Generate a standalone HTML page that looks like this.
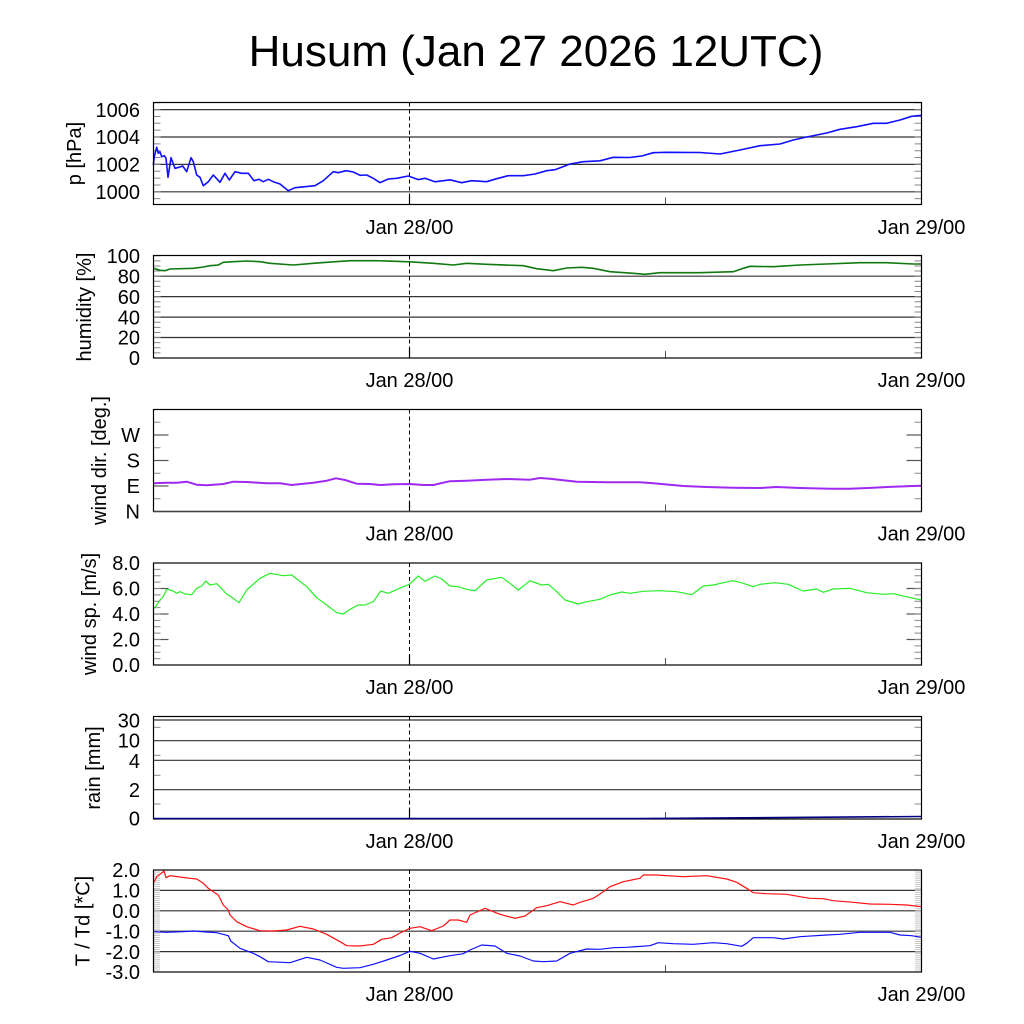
<!DOCTYPE html>
<html>
<head>
<meta charset="utf-8">
<style>
html,body{margin:0;padding:0;background:#fff;}
svg{display:block;}
text{font-family:"Liberation Sans",Arial,sans-serif;fill:#000;}
</style>
</head>
<body>
<svg width="1024" height="1024" viewBox="0 0 1024 1024" xmlns="http://www.w3.org/2000/svg">
<rect x="0" y="0" width="1024" height="1024" fill="#fff"/>

<text x="536" y="66" font-size="44" text-anchor="middle">Husum (Jan 27 2026 12UTC)</text>

<!-- ============ Panel 1: pressure ============ -->
<g>
  <g stroke="#333" stroke-width="1.2">
    <line x1="153.5" y1="109.6" x2="921.5" y2="109.6"/>
    <line x1="153.5" y1="137" x2="921.5" y2="137"/>
    <line x1="153.5" y1="164.4" x2="921.5" y2="164.4"/>
    <line x1="153.5" y1="191.8" x2="921.5" y2="191.8"/>
  </g>
  <g stroke="#888" stroke-width="7" stroke-dasharray="1 5.85">
    <line x1="157" y1="199.15" x2="157" y2="102.5"/>
    <line x1="918" y1="199.15" x2="918" y2="102.5"/>
  </g>
  <line x1="409.5" y1="102.5" x2="409.5" y2="204.5" stroke="#000" stroke-width="1" stroke-dasharray="4 3"/>
  <line x1="409.5" y1="194.5" x2="409.5" y2="204.5" stroke="#000" stroke-width="1.2"/>
  <line x1="665.5" y1="197.5" x2="665.5" y2="204.5" stroke="#555" stroke-width="1"/>
  <polyline fill="none" stroke="#1010ff" stroke-width="1.6" stroke-linejoin="round" points="153.3,165 154.3,156.7 156.7,147.3 158.3,153.3 160,151.7 161.7,156.7 164.3,155.7 166,158.3 168,177.3 171,157.7 175,168.3 179,167.3 182.7,166 186.7,171.7 191,157.7 193.3,161.7 196.7,175 200,177.3 203.3,185.7 208.3,181.7 213.3,175 220,182.3 225,173.3 229.3,180 235,171.7 241.7,173.3 248.3,173.3 254,180.7 259,179.3 263.3,181.7 268.3,179.3 273.3,181.7 280,184 288.3,190.7 295,187.7 305,186.7 315,185.7 323.3,180.7 333.3,171.7 338.3,172.7 346,170.7 353.3,172 360,175.3 366.7,175 373.3,178.3 380,182.7 388.3,179 396.7,178.3 408.3,176 418.3,179.6 425,178.3 435,181.8 450,179.8 461.7,182.7 471.7,180.7 486.7,181.7 496.7,178.7 508.3,175.7 523.3,175.7 535,174 546.7,170.7 555,169.7 570,164 583.3,161.7 600,160.8 613.3,157.3 630,157.5 641.7,156 653.3,152.7 666.7,152.3 700,152.5 720,154 740,150 760,145.7 780,144 793.3,140 806.7,137 826.7,133 840,129.3 856.7,126.7 873.3,123.3 886.7,123.3 900,120 911.7,116.3 921.5,115.3"/>
  <rect x="153.5" y="102.5" width="768" height="102" fill="none" stroke="#000" stroke-width="1.2"/>
  <g font-size="20" text-anchor="end">
    <text x="140" y="116.8">1006</text>
    <text x="140" y="144.2">1004</text>
    <text x="140" y="171.6">1002</text>
    <text x="140" y="199">1000</text>
  </g>
  <text font-size="20" text-anchor="middle" transform="translate(81,153.5) rotate(-90)">p [hPa]</text>
  <text x="409.5" y="234" font-size="20" text-anchor="middle">Jan 28/00</text>
  <text x="921.5" y="234" font-size="20" text-anchor="middle">Jan 29/00</text>
</g>

<!-- ============ Panel 2: humidity ============ -->
<g>
  <g stroke="#333" stroke-width="1.2">
    <line x1="153.5" y1="276.2" x2="921.5" y2="276.2"/>
    <line x1="153.5" y1="296.6" x2="921.5" y2="296.6"/>
    <line x1="153.5" y1="317.1" x2="921.5" y2="317.1"/>
    <line x1="153.5" y1="337.5" x2="921.5" y2="337.5"/>
  </g>
  <g stroke="#888" stroke-width="7" stroke-dasharray="1 4.115">
    <line x1="157" y1="353.4" x2="157" y2="255.5"/>
    <line x1="918" y1="353.4" x2="918" y2="255.5"/>
  </g>
  <line x1="409.5" y1="255.5" x2="409.5" y2="358" stroke="#000" stroke-width="1" stroke-dasharray="4 3"/>
  <line x1="409.5" y1="348" x2="409.5" y2="358" stroke="#000" stroke-width="1.2"/>
  <line x1="665.5" y1="351" x2="665.5" y2="358" stroke="#555" stroke-width="1"/>
  <polyline fill="none" stroke="#107a10" stroke-width="1.6" stroke-linejoin="round" points="153.5,268.3 160,270.3 165,270.7 170,269 193.3,268.3 203.3,267 210,265.7 218.3,265 223.3,262.3 233.3,261.7 246.7,261 260,261.7 270,263.3 293.3,265 313.3,263.3 326.7,262.3 350,260.7 376.7,260.7 410,261.8 433.3,263.3 453.3,265 466.7,263.3 486.7,264.3 523.3,265.7 536.7,268.7 553.3,270.7 566.7,268 581.7,267.3 593.3,268.3 610,271.7 633.3,273.3 645,274.3 660,272.7 700,272.7 733.3,271.7 743.3,268.3 750,266.3 773.3,266.7 800,265 826.7,264 860,262.7 886.7,262.7 913.3,264 921.5,264"/>
  <rect x="153.5" y="255.5" width="768" height="102.5" fill="none" stroke="#000" stroke-width="1.2"/>
  <g font-size="20" text-anchor="end">
    <text x="140" y="263">100</text>
    <text x="140" y="283.4">80</text>
    <text x="140" y="303.8">60</text>
    <text x="140" y="324.3">40</text>
    <text x="140" y="344.7">20</text>
    <text x="140" y="365.2">0</text>
  </g>
  <text font-size="20" text-anchor="middle" transform="translate(91,307) rotate(-90)">humidity [%]</text>
  <text x="409.5" y="387" font-size="20" text-anchor="middle">Jan 28/00</text>
  <text x="921.5" y="387" font-size="20" text-anchor="middle">Jan 29/00</text>
</g>

<!-- ============ Panel 3: wind direction ============ -->
<g>
  <g stroke="#555" stroke-width="1.2">
    <line x1="153.5" y1="486" x2="168.5" y2="486"/>
    <line x1="153.5" y1="460.5" x2="168.5" y2="460.5"/>
    <line x1="153.5" y1="435" x2="168.5" y2="435"/>
    <line x1="906.5" y1="486" x2="921.5" y2="486"/>
    <line x1="906.5" y1="460.5" x2="921.5" y2="460.5"/>
    <line x1="906.5" y1="435" x2="921.5" y2="435"/>
  </g>
  <g stroke="#888" stroke-width="1">
    <line x1="153.5" y1="498.75" x2="160.5" y2="498.75"/>
    <line x1="153.5" y1="473.25" x2="160.5" y2="473.25"/>
    <line x1="153.5" y1="447.75" x2="160.5" y2="447.75"/>
    <line x1="153.5" y1="422.25" x2="160.5" y2="422.25"/>
    <line x1="914.5" y1="498.75" x2="921.5" y2="498.75"/>
    <line x1="914.5" y1="473.25" x2="921.5" y2="473.25"/>
    <line x1="914.5" y1="447.75" x2="921.5" y2="447.75"/>
    <line x1="914.5" y1="422.25" x2="921.5" y2="422.25"/>
  </g>
  <line x1="409.5" y1="409.5" x2="409.5" y2="511.5" stroke="#000" stroke-width="1" stroke-dasharray="4 3"/>
  <line x1="409.5" y1="501.5" x2="409.5" y2="511.5" stroke="#000" stroke-width="1.2"/>
  <line x1="665.5" y1="504.5" x2="665.5" y2="511.5" stroke="#555" stroke-width="1"/>
  <polyline fill="none" stroke="#a028f0" stroke-width="2" stroke-linejoin="round" points="153.5,483.3 166.7,482.7 176.7,482.7 186.7,481.7 196.7,484.7 206.7,485.3 223.3,484 233.3,481.7 246.7,482 266.7,483.3 280,483.3 291.7,485 313.3,482.7 326.7,480.7 336,478.3 345,480 356.7,483.7 370,484 380,485 393.3,484.3 410,484 423.3,485 433.3,485 450,481.2 466.7,480.7 486.7,479.7 506.7,479 530,479.7 540,478 550,478.7 576.7,481.7 606.7,482.3 640,482.3 653.3,483.3 683.3,486 706.7,487 733.3,487.7 760,488 776.7,487 800,488 830,488.7 850,488.7 873.3,487.7 893.3,486.7 913.3,486 921.5,485.7"/>
  <rect x="153.5" y="409.5" width="768" height="102" fill="none" stroke="#000" stroke-width="1.2"/>
  <line x1="153.5" y1="511.5" x2="921.5" y2="511.5" stroke="#444" stroke-width="1.6"/>
  <g font-size="20" text-anchor="end">
    <text x="140" y="442.2">W</text>
    <text x="140" y="467.7">S</text>
    <text x="140" y="493.2">E</text>
    <text x="140" y="518.7">N</text>
  </g>
  <text font-size="20" text-anchor="middle" transform="translate(106,460.5) rotate(-90)">wind dir. [deg.]</text>
  <text x="409.5" y="540.5" font-size="20" text-anchor="middle">Jan 28/00</text>
  <text x="921.5" y="540.5" font-size="20" text-anchor="middle">Jan 29/00</text>
</g>

<!-- ============ Panel 4: wind speed ============ -->
<g>
  <g stroke="#555" stroke-width="1.2">
    <line x1="153.5" y1="639.5" x2="168.5" y2="639.5"/>
    <line x1="153.5" y1="614" x2="168.5" y2="614"/>
    <line x1="153.5" y1="588.5" x2="168.5" y2="588.5"/>
    <line x1="906.5" y1="639.5" x2="921.5" y2="639.5"/>
    <line x1="906.5" y1="614" x2="921.5" y2="614"/>
    <line x1="906.5" y1="588.5" x2="921.5" y2="588.5"/>
  </g>
  <g stroke="#888" stroke-width="7" stroke-dasharray="1 5.375">
    <line x1="157" y1="659.125" x2="157" y2="563"/>
    <line x1="918" y1="659.125" x2="918" y2="563"/>
  </g>
  <line x1="409.5" y1="563" x2="409.5" y2="665" stroke="#000" stroke-width="1" stroke-dasharray="4 3"/>
  <line x1="409.5" y1="655" x2="409.5" y2="665" stroke="#000" stroke-width="1.2"/>
  <line x1="665.5" y1="658" x2="665.5" y2="665" stroke="#555" stroke-width="1"/>
  <polyline fill="none" stroke="#28ee28" stroke-width="1.2" stroke-linejoin="round" points="154.3,608.3 156.7,605 160,600 163.3,596.7 166.7,589.3 170,590 173.3,591 176.7,593.3 180,591.7 185,594 191.7,594.7 196.7,588.3 201.7,586 205.7,581 210,585 216.7,583.7 226.7,594 233.3,598.3 239,602.7 246.7,590 260,578.3 270,573.3 283.3,575.7 291.7,575 306.7,586.7 316.7,597.7 326.7,605 336.7,612.7 343.3,614 350,609.3 358.3,605 365,605 373.3,601.7 380.7,591 388.3,593.3 401.7,587.3 409.3,584.3 418.3,576 425,581.3 435,576 441.7,579 450,586 458.3,586.7 466.7,589.3 475,590.7 486.7,580 501.7,577.3 510,583.3 518.3,590 530,580.7 541.7,585 548.3,584.3 556.7,591.7 565,600 578.3,604 586.7,601.7 600,599.3 610,595 621.7,592 630,593.3 643.3,591.3 660,590.7 676.7,591.7 691.7,594.7 703.3,586 713.3,585 723.3,582.7 733.3,580.7 743.3,583.3 753.3,586.7 760,584.3 775,582.7 788.3,584.3 803.3,591 816.7,589 823.3,592.3 833.3,589 850,588.3 866.7,592.7 883.3,594.3 893.3,593.7 913.3,598.3 921.5,600"/>
  <rect x="153.5" y="563" width="768" height="102" fill="none" stroke="#000" stroke-width="1.2"/>
  <g font-size="20" text-anchor="end">
    <text x="140" y="570.2">8.0</text>
    <text x="140" y="595.7">6.0</text>
    <text x="140" y="621.2">4.0</text>
    <text x="140" y="646.7">2.0</text>
    <text x="140" y="672.2">0.0</text>
  </g>
  <text font-size="20" text-anchor="middle" transform="translate(96,614) rotate(-90)">wind sp. [m/s]</text>
  <text x="409.5" y="694" font-size="20" text-anchor="middle">Jan 28/00</text>
  <text x="921.5" y="694" font-size="20" text-anchor="middle">Jan 29/00</text>
</g>

<!-- ============ Panel 5: rain ============ -->
<g>
  <g stroke="#333" stroke-width="1.2">
    <line x1="153.5" y1="720" x2="921.5" y2="720"/>
    <line x1="153.5" y1="740.7" x2="921.5" y2="740.7"/>
    <line x1="153.5" y1="760.3" x2="921.5" y2="760.3"/>
    <line x1="153.5" y1="789.7" x2="921.5" y2="789.7"/>
  </g>
  <g stroke="#888" stroke-width="1">
    <line x1="153.5" y1="727.3" x2="160.5" y2="727.3"/>
    <line x1="153.5" y1="755.3" x2="160.5" y2="755.3"/>
    <line x1="153.5" y1="775.3" x2="160.5" y2="775.3"/>
    <line x1="153.5" y1="804" x2="160.5" y2="804"/>
    <line x1="914.5" y1="727.3" x2="921.5" y2="727.3"/>
    <line x1="914.5" y1="755.3" x2="921.5" y2="755.3"/>
    <line x1="914.5" y1="775.3" x2="921.5" y2="775.3"/>
    <line x1="914.5" y1="804" x2="921.5" y2="804"/>
  </g>
  <line x1="409.5" y1="716.5" x2="409.5" y2="819" stroke="#000" stroke-width="1" stroke-dasharray="4 3"/>
  <line x1="409.5" y1="809" x2="409.5" y2="819" stroke="#000" stroke-width="1.2"/>
  <line x1="665.5" y1="812" x2="665.5" y2="819" stroke="#555" stroke-width="1"/>
  <rect x="153.5" y="716.5" width="768" height="102.5" fill="none" stroke="#000" stroke-width="1.2"/>
  <polyline fill="none" stroke="#000080" stroke-width="1.6" points="153.5,818.6 640,818.6 921.5,816.5"/>
  <g font-size="20" text-anchor="end">
    <text x="140" y="727.5">30</text>
    <text x="140" y="747.5">10</text>
    <text x="140" y="767.8">4</text>
    <text x="140" y="797">2</text>
    <text x="140" y="825.5">0</text>
  </g>
  <text font-size="20" text-anchor="middle" transform="translate(100,768) rotate(-90)">rain [mm]</text>
  <text x="409.5" y="848" font-size="20" text-anchor="middle">Jan 28/00</text>
  <text x="921.5" y="848" font-size="20" text-anchor="middle">Jan 29/00</text>
</g>

<!-- ============ Panel 6: temperature ============ -->
<g>
  <g stroke="#333" stroke-width="1.2">
    <line x1="153.5" y1="890.4" x2="921.5" y2="890.4"/>
    <line x1="153.5" y1="910.8" x2="921.5" y2="910.8"/>
    <line x1="153.5" y1="931.2" x2="921.5" y2="931.2"/>
    <line x1="153.5" y1="951.6" x2="921.5" y2="951.6"/>
  </g>
  <g stroke="#bbb" stroke-width="6.5" stroke-dasharray="0.8 1.24">
    <line x1="156.75" y1="970.4" x2="156.75" y2="870"/>
    <line x1="918.25" y1="970.4" x2="918.25" y2="870"/>
  </g>
  <line x1="409.5" y1="870" x2="409.5" y2="972" stroke="#000" stroke-width="1" stroke-dasharray="4 3"/>
  <line x1="409.5" y1="962" x2="409.5" y2="972" stroke="#000" stroke-width="1.2"/>
  <line x1="665.5" y1="965" x2="665.5" y2="972" stroke="#555" stroke-width="1"/>
  <polyline fill="none" stroke="#ff1010" stroke-width="1.2" stroke-linejoin="round" points="154,882.3 156.7,876.7 160,874.3 164,871 166,877.7 170,875.7 180,877 190,878.3 196.7,879 203.3,883.3 208.3,888.3 213.3,891.7 218.3,895 223.3,905 228.3,910 230,915 236.7,921.7 246.7,926.7 260,930.7 273.3,931 286.7,930 300,926.3 313.3,929 326.7,934.3 340,941.7 346.7,945.7 360,946 373.3,944.3 381.7,939.3 391.7,937.7 400,933 410,928.3 420,926.7 431.7,930.7 443.3,926 450,920 458.3,920 466.7,922.3 470,915 485,908.3 500,914.3 515,918.3 525,916 536.7,907.7 546.7,905.7 560,901.7 573.3,905 580,902.3 593.3,898.3 600,894 610,886.7 623.3,881.7 640,878.3 643.3,875 656.7,875 683.3,876.7 706.7,875.7 726.7,879 736.7,882.3 746.7,888.3 753.3,892.7 766.7,893.7 786.7,894.3 800,896.7 810,898.3 823.3,898.7 833.3,900.7 853.3,902.3 870,904 890,904.3 906.7,905 921.5,906.7"/>
  <polyline fill="none" stroke="#1010ff" stroke-width="1.2" stroke-linejoin="round" points="154,931.7 166.7,932.3 183.3,931.7 193.3,931 206.7,932 216.7,932.7 228.3,935.7 230.7,941 240,948.3 253.3,953.3 260,956.7 268.3,961.7 290,962.7 306.7,957.3 320,960 336.7,967.3 343.3,968.3 360,967.7 373.3,964.3 386.7,960 400,955.5 410,951.3 420,953.3 433.3,959 450,955.7 463.3,953.7 470,950 481.7,945 495,946 506.7,953.3 520,956 533.3,961 543.3,961.7 556.7,961 570,953.3 586.7,949 600,949.3 613.3,947.7 626.7,947.3 650,945.7 658.3,942.7 673.3,943.7 693.3,944.3 713.3,942.7 726.7,943.7 741.7,946.3 746.7,943.3 753.3,937.7 773.3,937.7 783.3,939 800,936.7 826.7,935 840,934.3 860,932.3 890,932.3 900,935 911.7,935.7 921.5,937.3"/>
  <rect x="153.5" y="870" width="768" height="102" fill="none" stroke="#000" stroke-width="1.2"/>
  <g font-size="20" text-anchor="end">
    <text x="140" y="877.2">2.0</text>
    <text x="140" y="897.6">1.0</text>
    <text x="140" y="918">0.0</text>
    <text x="140" y="938.4">-1.0</text>
    <text x="140" y="958.8">-2.0</text>
    <text x="140" y="979.2">-3.0</text>
  </g>
  <text font-size="20" text-anchor="middle" transform="translate(89.5,921) rotate(-90)">T / Td [*C]</text>
  <text x="409.5" y="1001" font-size="20" text-anchor="middle">Jan 28/00</text>
  <text x="921.5" y="1001" font-size="20" text-anchor="middle">Jan 29/00</text>
</g>
</svg>
</body>
</html>
